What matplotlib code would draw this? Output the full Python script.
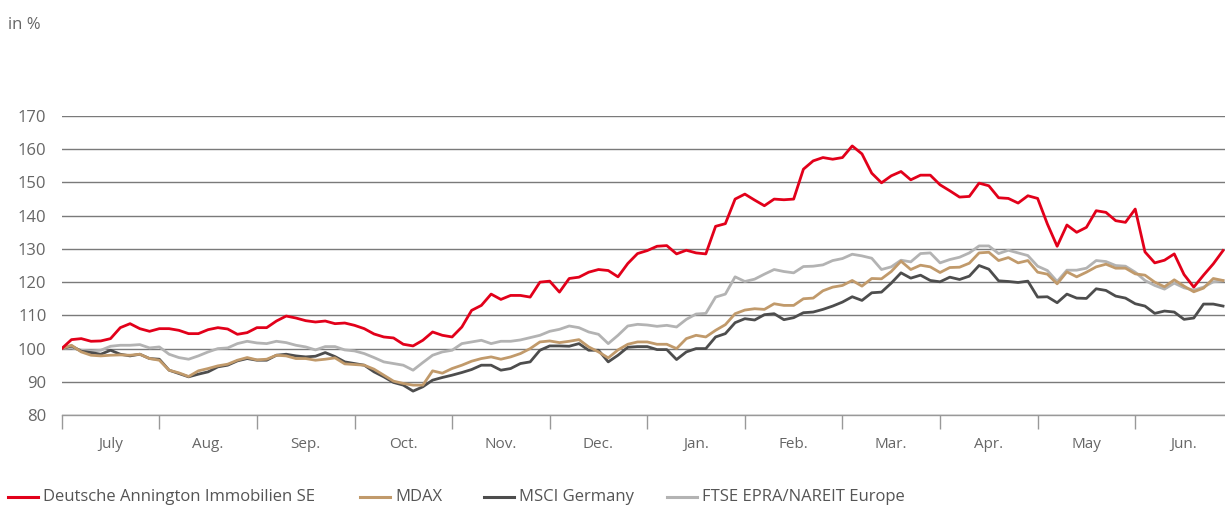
import matplotlib
matplotlib.use("Agg")
import matplotlib.pyplot as plt
import numpy as np
from matplotlib.lines import Line2D

plt.rcParams['font.family'] = ['Open Sans', 'DejaVu Sans']

# time axis in months since start of July, read every 0.1 month
months = np.round(np.arange(120) * 0.1, 1)
month_labels = ['July', 'Aug.', 'Sep.', 'Oct.', 'Nov.', 'Dec.',
                'Jan.', 'Feb.', 'Mar.', 'Apr.', 'May', 'Jun.']

deutsche_annington = [
    100, 102.7, 103, 102.2, 102.3, 103, 106.3, 107.5, 106, 105.2,
    106, 106, 105.5, 104.5, 104.5, 105.7, 106.3, 105.9, 104.3, 104.8,
    106.3, 106.3, 108.3, 109.8, 109.2, 108.4, 108, 108.3, 107.5, 107.7,
    107, 106, 104.4, 103.5, 103.2, 101.3, 100.8, 102.5, 105, 104,
    103.5, 106.5, 111.5, 113, 116.4, 114.8, 116, 116, 115.5, 120,
    120.3, 117, 121.1, 121.5, 123, 123.8, 123.5, 121.6, 125.6, 128.6,
    129.5, 130.8, 131, 128.5, 129.6, 128.8, 128.5, 136.8, 137.6, 145,
    146.5, 144.7, 143, 145, 144.8, 145, 154, 156.5, 157.5, 157,
    157.5, 161, 158.6, 152.8, 149.9, 152, 153.3, 150.8, 152.2, 152.2,
    149.3, 147.5, 145.6, 145.8, 149.8, 149, 145.4, 145.2, 143.8, 146,
    145.2, 137.5, 130.8, 137.2, 135, 136.5, 141.5, 141, 138.5, 138,
    142, 129.1, 125.8, 126.6, 128.5, 122.3, 118.5, 122.1, 125.5, 129.5,
]

mdax = [
    100, 101, 99, 98, 97.8, 98, 98.1, 98, 98.3, 97,
    96.5, 93.5, 92.7, 91.6, 93.3, 94, 94.8, 95.3, 96.5, 97.3,
    96.6, 96.8, 98, 97.8, 97, 97, 96.5, 96.8, 97.2, 95.4,
    95.2, 95, 93.8, 92, 90.2, 89.5, 89, 89, 93.3, 92.6,
    94, 95, 96.2, 97, 97.5, 96.8, 97.5, 98.5, 100, 102,
    102.3, 101.8, 102.2, 102.7, 100.5, 99, 97.2, 99.6, 101.3, 102,
    102, 101.3, 101.3, 100, 103, 104, 103.5, 105.5, 107.2, 110.5,
    111.6, 112, 111.8, 113.5, 113, 113, 115, 115.2, 117.4, 118.5,
    119, 120.5, 118.8, 121.1, 121, 123.2, 126.3, 123.8, 125.1, 124.6,
    122.9, 124.4, 124.5, 125.7, 128.8, 129, 126.5, 127.4, 125.8, 126.5,
    123, 122.4, 119.5, 123.1, 121.6, 123, 124.6, 125.4, 124.2, 124.2,
    122.5, 122.1, 120, 118.6, 120.7, 118.8, 117.1, 118.2, 121.1, 120.5,
]

msci_germany = [
    100, 100.8, 99.2, 98.8, 98.3, 99.5, 98.3, 97.8, 98.3, 97,
    96.8, 93.5, 92.5, 91.5, 92.3, 93, 94.5, 95, 96.3, 97,
    96.5, 96.5, 98, 98.3, 97.8, 97.5, 97.7, 98.8, 97.6, 96,
    95.5, 95, 93, 91.5, 89.8, 89, 87.2, 88.5, 90.5, 91.3,
    92, 92.8, 93.7, 95, 95, 93.5, 94, 95.5, 96, 99.5,
    100.8, 100.8, 100.7, 101.5, 99.5, 99.5, 96, 98, 100.4, 100.6,
    100.6, 99.7, 99.7, 96.7, 99, 100, 100, 103.5, 104.5, 107.8,
    109, 108.6, 110.2, 110.5, 108.7, 109.3, 110.8, 111, 111.8, 112.8,
    114, 115.6, 114.5, 116.8, 117, 119.7, 122.8, 121.2, 122.1, 120.5,
    120.1, 121.5, 120.8, 121.8, 125, 123.9, 120.4, 120.2, 119.9, 120.3,
    115.5, 115.6, 113.8, 116.4, 115.2, 115.1, 118, 117.5, 115.8, 115.2,
    113.5, 112.8, 110.6, 111.3, 111, 108.8, 109.2, 113.4, 113.4, 112.8,
]

ftse_epra = [
    100, 100.3, 99.5, 99.3, 99.5, 100.7, 101, 101, 101.2, 100.2,
    100.5, 98.3, 97.3, 96.8, 97.8, 99, 100, 100.2, 101.5, 102.2,
    101.7, 101.5, 102.2, 101.8, 101, 100.5, 99.6, 100.6, 100.6, 99.6,
    99.3, 98.5, 97.3, 96, 95.5, 95, 93.5, 95.8, 98, 99,
    99.5, 101.5, 102, 102.5, 101.5, 102.2, 102.2, 102.6, 103.3, 104,
    105.2, 105.8, 106.8, 106.3, 105, 104.3, 101.5, 104, 106.8, 107.3,
    107.1, 106.7, 107, 106.5, 108.8, 110.4, 110.6, 115.5, 116.4, 121.6,
    120.2, 120.9, 122.4, 123.8, 123.2, 122.8, 124.7, 124.8, 125.2, 126.5,
    127.1, 128.4, 127.9, 127.2, 123.8, 124.6, 126.6, 126.1, 128.6, 128.8,
    125.8, 126.8, 127.5, 128.8, 130.9, 130.9, 128.6, 129.6, 128.8, 128,
    124.8, 123.5, 120.2, 123.6, 123.6, 124.2, 126.5, 126.2, 125, 124.8,
    123, 120.5, 119, 117.9, 119.7, 118.3, 117.6, 118.5, 120.1, 120.4,
]

series = [
    ('FTSE EPRA/NAREIT Europe', ftse_epra, '#b3b3b3'),
    ('MSCI Germany', msci_germany, '#4d4d4d'),
    ('MDAX', mdax, '#c19a6b'),
    ('Deutsche Annington Immobilien SE', deutsche_annington, '#e2001a'),
]
legend_order = ['Deutsche Annington Immobilien SE', 'MDAX', 'MSCI Germany',
                'FTSE EPRA/NAREIT Europe']

fig = plt.figure(figsize=(12.25, 5.08), dpi=100)
ax = fig.add_axes([0.0504, 0.183, 0.9496, 0.5886])

for name, vals, color in series:
    ax.plot(months, vals, color=color, lw=2.0, solid_joinstyle='round')

ax.set_xlim(0, 11.92)
ax.set_ylim(80, 170)

# horizontal grid
ax.set_yticks(np.arange(80, 171, 10))
ax.yaxis.grid(True, color='#7a7a7a', lw=1.0)
ax.set_axisbelow(True)
ax.tick_params(axis='y', length=0, pad=11, labelsize=12, labelcolor='#666666')

# month boundaries as ticks, month names in between
ax.set_xticks(np.arange(12))
ax.set_xticklabels([])
ax.set_xticks(np.arange(12) + 0.5, minor=True)
ax.set_xticklabels(month_labels, minor=True)
ax.tick_params(axis='x', which='major', length=10, width=1, color='#999999',
               direction='out')
ax.tick_params(axis='x', which='minor', length=0, pad=16, labelsize=11,
               labelcolor='#666666')

for side in ['top', 'right', 'left']:
    ax.spines[side].set_visible(False)
ax.spines['bottom'].set_color('#999999')
ax.spines['bottom'].set_linewidth(1)

fig.text(8 / 1225, 1 - 25 / 508, 'in %', fontsize=12, color='#666666',
         va='center', ha='left')

# legend row along the bottom
colors = {name: color for name, _, color in series}
handle_x = [8, 360, 484, 667]
for x0, name in zip(handle_x, legend_order):
    y = 1 - 497 / 508
    fig.add_artist(Line2D([x0 / 1225, (x0 + 30) / 1225], [y, y],
                          color=colors[name], lw=2.2))
    fig.text((x0 + 35) / 1225, y, name, fontsize=12, color='#555555',
             va='center', ha='left')

fig.savefig('out.png', dpi=100)
